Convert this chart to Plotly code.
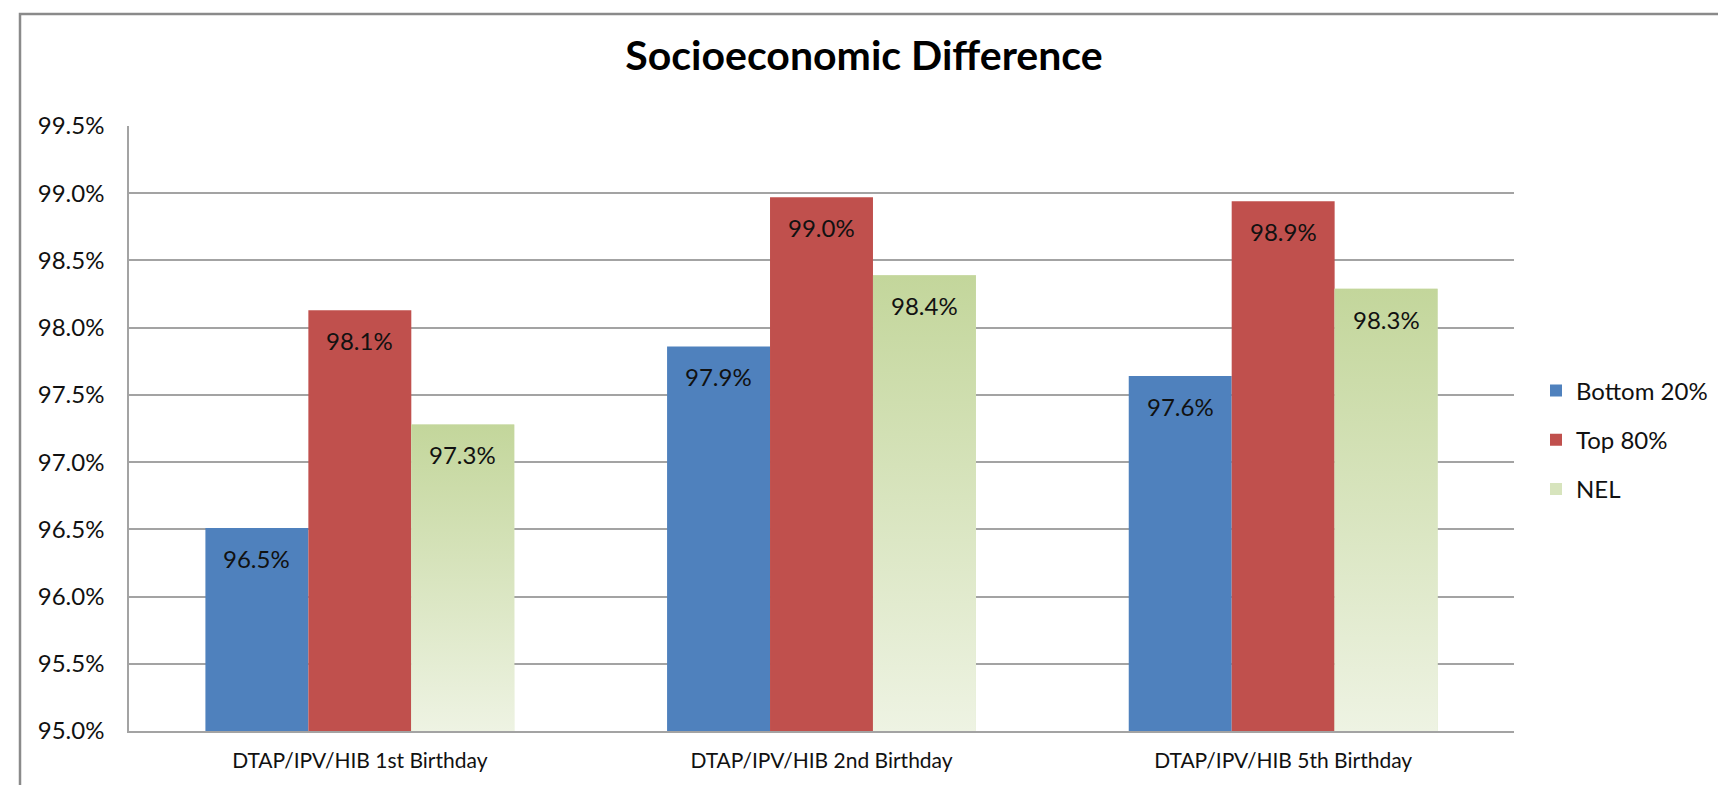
import plotly.graph_objects as go

# ---------------- data ----------------
categories = ["DTAP/IPV/HIB 1st Birthday", "DTAP/IPV/HIB 2nd Birthday", "DTAP/IPV/HIB 5th Birthday"]
series_names = ["Bottom 20%", "Top 80%", "NEL"]
bottom20 = [96.51, 97.86, 97.64]
top80 = [98.13, 98.97, 98.94]
nel = [97.28, 98.39, 98.29]
y_ticks = [95.0, 95.5, 96.0, 96.5, 97.0, 97.5, 98.0, 98.5, 99.0, 99.5]
title_text = "Socioeconomic Difference"

# ---------------- style ----------------
FONT = "Lato, 'Open Sans', sans-serif"
BLUE = "#4f81bd"
RED = "#c0504d"
GREEN_MID = "#d7e4bd"
GREEN_TOP = "#c3d69b"
GREEN_BOTTOM = "#eef3e3"
GRID = "#a3a3a3"
TXT = "#111111"
Y_MIN, Y_MAX = y_ticks[0], y_ticks[-1]

W, H = 1726, 785
L, R, T, B = 121, 220, 118, 62
PW, PH = W - L - R, H - T - B

bar_gap = 0.331
bw = (1 - bar_gap) / 3
pos = list(range(len(categories)))

fig = go.Figure()

fig.add_bar(x=pos, y=bottom20, width=bw, offset=-1.5 * bw, name=series_names[0],
            marker=dict(color=BLUE, line=dict(width=0)), legendgroup="g1", hoverinfo="y")
fig.add_bar(x=pos, y=top80, width=bw, offset=-0.5 * bw, name=series_names[1],
            marker=dict(color=RED, line=dict(width=0)), legendgroup="g2", hoverinfo="y")
# NEL as bars (legend swatch + base colour); gradient overlay drawn on top below
fig.add_bar(x=pos, y=nel, width=bw, offset=0.5 * bw, name=series_names[2],
            marker=dict(color=GREEN_MID, line=dict(width=0)), legendgroup="g3", hoverinfo="y")

# vertical gradient fill for the NEL bars
for i, v in enumerate(nel):
    x0 = pos[i] + 0.5 * bw
    x1 = x0 + bw
    fig.add_scatter(
        x=[x0, x0, x1, x1, x0], y=[Y_MIN, v, v, Y_MIN, Y_MIN],
        mode="lines", fill="toself",
        line=dict(width=0, color="rgba(0,0,0,0)"),
        fillcolor=GREEN_MID,
        fillgradient=dict(type="vertical", colorscale=[[0, GREEN_BOTTOM], [1, GREEN_TOP]]),
        name=series_names[2], legendgroup="g3", showlegend=False, hoverinfo="skip",
    )

# data labels
annotations = []
for vals, off in ((bottom20, -1.0), (top80, 0.0), (nel, 1.0)):
    for i, v in enumerate(vals):
        annotations.append(dict(
            x=pos[i] + off * bw, y=v, xref="x", yref="y",
            text=f"{v:.1f}%", showarrow=False, yanchor="top", yshift=-14,
            font=dict(family=FONT, size=24, color=TXT),
        ))

fig.update_layout(
    width=W, height=H,
    margin=dict(l=L, r=R, t=T, b=B, autoexpand=False),
    paper_bgcolor="white", plot_bgcolor="white",
    font=dict(family=FONT, size=24, color=TXT),
    title=dict(text=f"<b>{title_text}</b>", x=856 / W, xref="container", xanchor="center",
               y=1 - 48 / H, yref="container", yanchor="middle",
               font=dict(family=FONT, size=41, color="#000000")),
    barmode="overlay",
    showlegend=True,
    legend=dict(x=(1528 - L) / PW, xanchor="left", y=(H - B - 432) / PH, yanchor="middle",
                traceorder="grouped", tracegroupgap=15,
                font=dict(family=FONT, size=24, color=TXT),
                bgcolor="rgba(0,0,0,0)", itemclick=False),
    annotations=annotations,
    shapes=[dict(type="rect", xref="paper", yref="paper",
                 x0=(12 - L) / PW, x1=(1740 - L) / PW,
                 y0=(H - B - 800) / PH, y1=(H - B - 6) / PH,
                 line=dict(color="#8a8a8a", width=2.5), fillcolor="rgba(0,0,0,0)", layer="below")],
)

fig.update_xaxes(
    type="linear", range=[-0.5, len(categories) - 0.5],
    tickmode="array", tickvals=pos, ticktext=categories,
    showgrid=False, zeroline=False, showline=True, linecolor=GRID, linewidth=1.5,
    ticks="", ticklabelstandoff=10,
    tickfont=dict(family=FONT, size=21, color=TXT), fixedrange=True,
)
fig.update_yaxes(
    range=[Y_MIN, Y_MAX], tickmode="array", tickvals=y_ticks,
    ticktext=[f"{t:.1f}%" for t in y_ticks],
    showgrid=True, gridcolor=GRID, gridwidth=1.5, zeroline=False,
    showline=True, linecolor=GRID, linewidth=1.5,
    ticks="", ticklabelstandoff=18,
    tickfont=dict(family=FONT, size=24, color=TXT), fixedrange=True,
)

fig.write_html("out.html")
